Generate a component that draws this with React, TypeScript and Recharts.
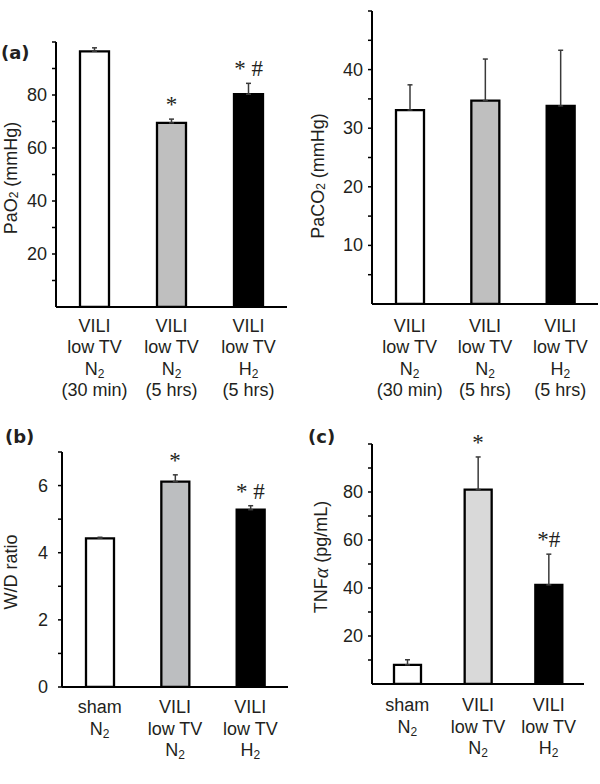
import React from 'react';
import {
  ComposedChart,
  Bar,
  Line,
  XAxis,
  YAxis,
  ErrorBar,
  Cell,
  LabelList,
  Label,
} from 'recharts';

// group labels, '|' splits lines
const groupsA = ['VILI|low TV|N₂|(30 min)', 'VILI|low TV|N₂|(5 hrs)', 'VILI|low TV|H₂|(5 hrs)'];
const groupsBC = ['sham|N₂', 'VILI|low TV|N₂', 'VILI|low TV|H₂'];

// (a) PaO2
const pao2Mean = [96.5, 69.5, 80.3];
const pao2Err = [1.3, 1.4, 4.1];
const pao2Sig = ['', '*', '* #'];
const pao2Ticks = [10, 20, 30, 40, 50, 60, 70, 80, 90, 100];
const pao2Labels = [20, 40, 60, 80];

// (a) PaCO2
const paco2Mean = [33.1, 34.7, 33.8];
const paco2Err = [4.3, 7.1, 9.5];
const paco2Sig = ['', '', ''];
const paco2Ticks = [5, 10, 15, 20, 25, 30, 35, 40, 45, 50];
const paco2Labels = [10, 20, 30, 40];

// (b) W/D ratio
const wdMean = [4.43, 6.12, 5.28];
const wdErr = [0.03, 0.2, 0.12];
const wdSig = ['', '*', '* #'];
const wdTicks = [0, 1, 2, 3, 4, 5, 6, 7];
const wdLabels = [0, 2, 4, 6];

// (c) TNFα
const tnfMean = [8.0, 81.0, 41.3];
const tnfErr = [2.1, 13.6, 12.8];
const tnfSig = ['', '*', '*#'];
const tnfTicks = [10, 20, 30, 40, 50, 60, 70, 80, 90, 100];
const tnfLabels = [20, 40, 60, 80];

const fillsA = ['#ffffff', '#bfbfbf', '#000000'];
const fillsB = ['#ffffff', '#bcbec0', '#000000'];
const fillsC = ['#ffffff', '#d9d9d9', '#000000'];

const FONT = '"Liberation Sans", Arial, sans-serif';
const TXT = '#231f20';

const build = (names: string[], mean: number[], err: number[], sig: string[]) =>
  names.map((name, i) => ({
    name,
    mean: mean[i],
    err: [0, err[i]],
    top: mean[i] + err[i],
    sig: sig[i],
  }));

// subscript 2 and greek alpha as tspans
const rich = (s: string) => {
  const parts = s.split(/(₂|α)/).filter((p) => p !== '');
  const out: React.ReactNode[] = [];
  let shift = 0;
  parts.forEach((p, i) => {
    if (p === '₂') {
      out.push(
        <tspan key={i} fontSize={12} dy={3 - shift}>
          2
        </tspan>
      );
      shift = 3;
    } else if (p === 'α') {
      out.push(
        <tspan key={i} dy={-shift} fontFamily='"Liberation Serif", serif' fontStyle="italic" fontSize={20}>
          α
        </tspan>
      );
      shift = 0;
    } else {
      out.push(
        <tspan key={i} dy={-shift}>
          {p}
        </tspan>
      );
      shift = 0;
    }
  });
  return out;
};

type PanelProps = {
  left: number;
  top: number;
  width: number;
  height: number;
  plotLeft: number;
  plotRight: number;
  plotTop: number;
  plotBottom: number;
  data: any[];
  fills: string[];
  domain: [number, number];
  ticks: number[];
  tickLabels: number[];
  tickGap: number;
  yLabel: string;
  yLabelX: number;
  yLabelY: number;
  firstLine: number;
  barSize: number;
};

const Panel = (p: PanelProps) => {
  const XTick = (t: any) => {
    const lines = String(t.payload.value).split('|');
    return (
      <text x={t.x} y={t.y} textAnchor="middle" fontFamily={FONT} fontSize={18} fill={TXT}>
        {lines.map((l, i) => (
          <tspan key={i} x={t.x} y={t.y + p.firstLine + i * 21.5}>
            {rich(l)}
          </tspan>
        ))}
      </text>
    );
  };
  const YTick = (t: any) => {
    if (!p.tickLabels.includes(t.payload.value)) return <g />;
    return (
      <text x={t.x} y={t.y} dy={6} textAnchor="end" fontFamily={FONT} fontSize={18} fill={TXT}>
        {t.payload.value}
      </text>
    );
  };
  return (
    <div style={{ position: 'absolute', left: p.left, top: p.top }}>
      <ComposedChart
        width={p.width}
        height={p.height}
        data={p.data}
        margin={{ top: p.plotTop, right: p.width - p.plotRight, left: 0, bottom: 0 }}
      >
        <XAxis
          dataKey="name"
          height={p.height - p.plotBottom}
          interval={0}
          tickLine={false}
          tickSize={0}
          tickMargin={0}
          axisLine={{ stroke: '#000', strokeWidth: 2 }}
          tick={(t: any) => <XTick {...t} />}
        />
        <YAxis
          width={p.plotLeft}
          domain={p.domain}
          ticks={p.ticks}
          interval={0}
          allowDataOverflow
          tickSize={4}
          tickMargin={p.tickGap}
          axisLine={{ stroke: '#000', strokeWidth: 2 }}
          tickLine={{ stroke: '#000', strokeWidth: 1.5 }}
          tick={(t: any) => <YTick {...t} />}
        >
          <Label
            content={() => (
              <text
                x={p.yLabelX}
                y={p.yLabelY}
                transform={`rotate(-90 ${p.yLabelX} ${p.yLabelY})`}
                textAnchor="middle"
                dominantBaseline="central"
                fontFamily={FONT}
                fontSize={18}
                fill={TXT}
              >
                {rich(p.yLabel)}
              </text>
            )}
          />
        </YAxis>
        <Bar dataKey="mean" barSize={p.barSize} stroke="#000" strokeWidth={2.3} isAnimationActive={false}>
          {p.data.map((d, i) => (
            <Cell key={d.name} fill={p.fills[i]} />
          ))}
          <ErrorBar dataKey="err" direction="y" width={2.5} stroke="#3a3a3a" strokeWidth={1.5} />
        </Bar>
        <Line
          dataKey="top"
          stroke="none"
          dot={false}
          activeDot={false}
          isAnimationActive={false}
        >
          <LabelList
            dataKey="sig"
            content={(l: any) =>
              l.value ? (
                <text
                  x={l.x}
                  y={l.y - 7}
                  textAnchor="middle"
                  fontFamily='"Liberation Serif", serif'
                  fontSize={23}
                  fill={TXT}
                >
                  {l.value}
                </text>
              ) : null
            }
          />
        </Line>
      </ComposedChart>
    </div>
  );
};

const App = () => {
  return (
    <div style={{ position: 'absolute', left: 0, top: 0, width: 600, height: 784, background: '#fff' }}>
      <Panel
        left={0}
        top={0}
        width={300}
        height={400}
        plotLeft={56}
        plotRight={287}
        plotTop={42}
        plotBottom={307}
        data={build(groupsA, pao2Mean, pao2Err, pao2Sig)}
        fills={fillsA}
        domain={[0, 100]}
        ticks={pao2Ticks}
        tickLabels={pao2Labels}
        tickGap={5}
        yLabel="PaO₂ (mmHg)"
        yLabelX={11}
        yLabelY={178}
        firstLine={24.5}
        barSize={29}
      />
      <Panel
        left={300}
        top={0}
        width={300}
        height={400}
        plotLeft={72}
        plotRight={298}
        plotTop={11}
        plotBottom={304}
        data={build(groupsA, paco2Mean, paco2Err, paco2Sig)}
        fills={fillsA}
        domain={[0, 50]}
        ticks={paco2Ticks}
        tickLabels={paco2Labels}
        tickGap={5}
        yLabel="PaCO₂ (mmHg)"
        yLabelX={18}
        yLabelY={176}
        firstLine={27.5}
        barSize={28}
      />
      <Panel
        left={0}
        top={400}
        width={300}
        height={384}
        plotLeft={62}
        plotRight={288}
        plotTop={52}
        plotBottom={287}
        data={build(groupsBC, wdMean, wdErr, wdSig)}
        fills={fillsB}
        domain={[0, 7]}
        ticks={wdTicks}
        tickLabels={wdLabels}
        tickGap={10}
        yLabel="W/D ratio"
        yLabelX={11}
        yLabelY={172}
        firstLine={26}
        barSize={28}
      />
      <Panel
        left={300}
        top={400}
        width={300}
        height={384}
        plotLeft={72}
        plotRight={284}
        plotTop={44}
        plotBottom={284}
        data={build(groupsBC, tnfMean, tnfErr, tnfSig)}
        fills={fillsC}
        domain={[0, 100]}
        ticks={tnfTicks}
        tickLabels={tnfLabels}
        tickGap={5}
        yLabel="TNFα (pg/mL)"
        yLabelX={21}
        yLabelY={157}
        firstLine={27}
        barSize={27}
      />
      <svg width={600} height={784} style={{ position: 'absolute', left: 0, top: 0, pointerEvents: 'none' }}>
        <text x={1} y={59} fontFamily='"DejaVu Sans", sans-serif' fontWeight="bold" fontSize={18} fill={TXT}>
          (a)
        </text>
        <text x={5} y={443} fontFamily='"DejaVu Sans", sans-serif' fontWeight="bold" fontSize={18} fill={TXT}>
          (b)
        </text>
        <text x={308} y={443} fontFamily='"DejaVu Sans", sans-serif' fontWeight="bold" fontSize={18} fill={TXT}>
          (c)
        </text>
      </svg>
    </div>
  );
};

export default App;
